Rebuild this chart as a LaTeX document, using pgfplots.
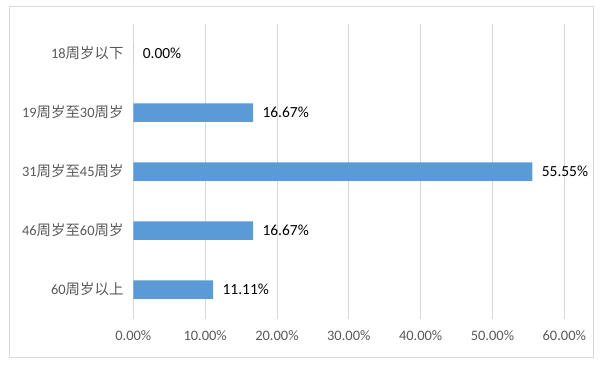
\documentclass[border=0pt]{standalone}
\usepackage{pgfplots}
\pgfplotsset{compat=1.18}
\usepackage{fontspec}
\setmainfont{Carlito}
\newfontfamily\cjk{Noto Sans CJK SC}
\definecolor{barblue}{HTML}{5B9BD5}
\definecolor{gridgray}{HTML}{D9D9D9}
\definecolor{labgray}{HTML}{595959}
\begin{document}
\begin{tikzpicture}
\path (0,0) rectangle (602bp,367bp);
\draw[gridgray, line width=0.8bp] (9bp,10bp) rectangle (593bp,361bp);
\begin{axis}[
  at={(133.3bp,48bp)}, anchor=south west,
  scale only axis, width=431bp, height=295bp,
  xbar, bar width=18.5bp,
  xmin=0, xmax=60, ymin=-0.5, ymax=4.5,
  y dir=reverse,
  ytick={0,1,2,3,4},
  yticklabels={18{\cjk 周岁以下},19{\cjk 周岁至}30{\cjk 周岁},31{\cjk 周岁至}45{\cjk 周岁},46{\cjk 周岁至}60{\cjk 周岁},60{\cjk 周岁以上}},
  xtick={0,10,...,60},
  xticklabel={\pgfmathprintnumber[fixed,fixed zerofill,precision=2]{\tick}\%},
  /pgf/number format/assume math mode=true,
  axis line style={draw=none},
  major tick style={draw=none},
  xmajorgrids, grid style={gridgray, line width=0.8bp},
  ticklabel style={font=\fontsize{14.5}{16}\selectfont, text=labgray},
  yticklabel style={xshift=-2bp},
  xticklabel style={yshift=-8bp},
  point meta=x,
  nodes near coords={\pgfmathprintnumber[fixed,fixed zerofill,precision=2]{\pgfplotspointmeta}\%},
  nodes near coords style={font=\fontsize{15.5}{17}\selectfont, text=black, anchor=west, xshift=6bp},
]
\addplot[fill=barblue, draw=none] coordinates {(0,0) (16.67,1) (55.55,2) (16.67,3) (11.11,4)};
\end{axis}
\end{tikzpicture}
\end{document}
